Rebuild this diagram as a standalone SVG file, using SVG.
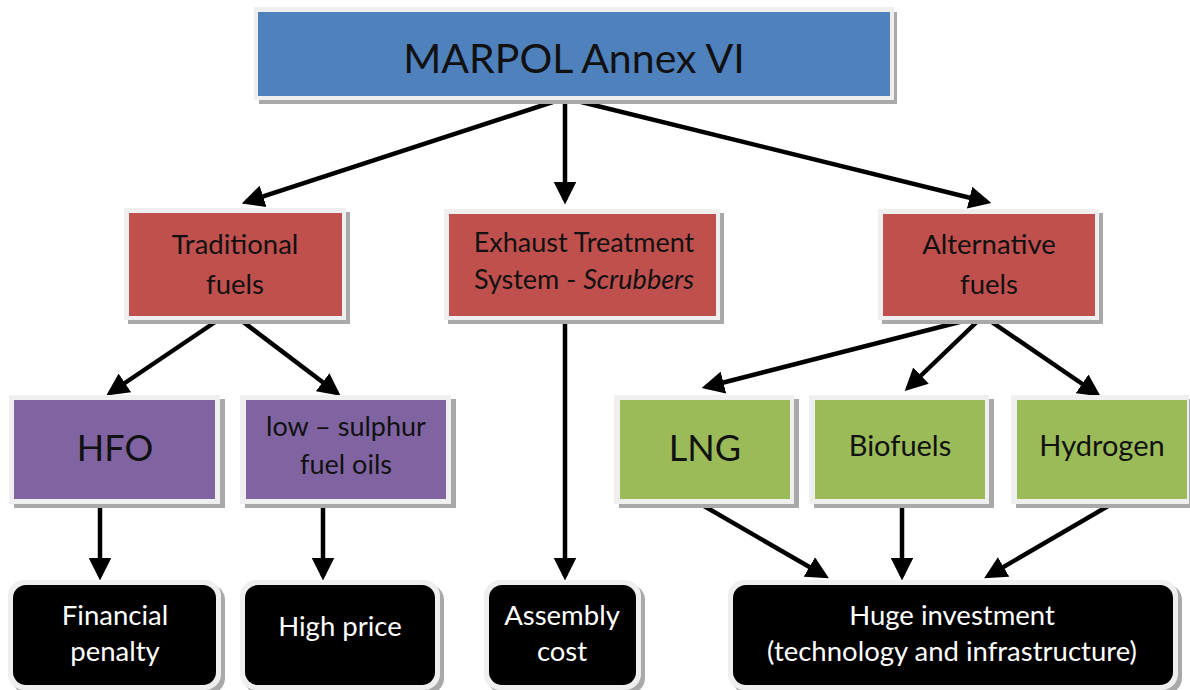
<svg xmlns="http://www.w3.org/2000/svg" width="1190" height="690" viewBox="0 0 1190 690">
<style>
.sh{fill:#a9a9a9}
.fr{fill:#efefef}
.blue{fill:#4f81bd}
.red{fill:#c0504d}
.pur{fill:#8064a2}
.grn{fill:#9bbb59}
.blk{fill:#000}
text{font-family:Lato,"Open Sans",sans-serif;text-anchor:middle;fill:#111}
.w{fill:#fff}
.c line{stroke:#000;stroke-width:4.5;marker-end:url(#ah)}
</style>
<defs>
<marker id="ah" markerWidth="5" markerHeight="5" refX="4" refY="2.5" orient="auto" markerUnits="strokeWidth">
<path d="M0,0 L5,2.5 L0,5 Z" fill="#000"/>
</marker>
</defs>
<rect width="1190" height="690" fill="#fff"/>
<g class="c">
<line x1="565" y1="98" x2="246" y2="202"/>
<line x1="565" y1="98" x2="565" y2="200"/>
<line x1="565" y1="98" x2="987" y2="202"/>
<line x1="230" y1="312" x2="110" y2="393"/>
<line x1="230" y1="312" x2="337" y2="393"/>
<line x1="565" y1="312" x2="565" y2="576"/>
<line x1="983" y1="316" x2="706" y2="387"/>
<line x1="983" y1="316" x2="908" y2="388"/>
<line x1="983" y1="316" x2="1097" y2="394"/>
<line x1="100" y1="502" x2="100" y2="576"/>
<line x1="323" y1="502" x2="323" y2="576"/>
<line x1="697" y1="502" x2="825" y2="576"/>
<line x1="902" y1="502" x2="902" y2="576"/>
<line x1="1115" y1="502" x2="988" y2="576"/>
</g>
<g id="marpol">
<rect class="sh" x="259" y="12" width="638" height="92"/>
<rect class="fr" x="254" y="7" width="640" height="93"/>
<rect class="blue" x="258" y="12" width="632" height="84"/>
<text x="574" y="73" font-size="41">MARPOL Annex VI</text>
</g>
<g id="traditional">
<rect class="sh" x="128" y="212" width="222" height="112"/>
<rect class="fr" x="124" y="208" width="222" height="112"/>
<rect class="red" x="129" y="213" width="213" height="103"/>
<text x="235" y="254" font-size="27.5">Traditional</text>
<text x="235" y="294" font-size="27.5">fuels</text>
</g>
<g id="exhaust">
<rect class="sh" x="448" y="213" width="276" height="111"/>
<rect class="fr" x="444" y="209" width="276" height="111"/>
<rect class="red" x="449" y="214" width="267" height="102"/>
<text x="584" y="252" font-size="27">Exhaust Treatment</text>
<text x="584" y="289" font-size="27">System - <tspan font-style="italic">Scrubbers</tspan></text>
</g>
<g id="alternative">
<rect class="sh" x="882" y="213" width="221" height="111"/>
<rect class="fr" x="878" y="209" width="221" height="111"/>
<rect class="red" x="883" y="214" width="212" height="102"/>
<text x="989" y="254" font-size="27.5">Alternative</text>
<text x="989" y="294" font-size="27.5">fuels</text>
</g>
<g id="hfo">
<rect class="sh" x="14" y="399" width="211" height="109"/>
<rect class="fr" x="9" y="395" width="211" height="109"/>
<rect class="pur" x="14" y="400" width="201" height="99"/>
<text x="115" y="461" font-size="36">HFO</text>
</g>
<g id="lowsulphur">
<rect class="sh" x="245" y="399" width="211" height="109"/>
<rect class="fr" x="240" y="395" width="211" height="109"/>
<rect class="pur" x="246" y="400" width="200" height="99"/>
<text x="346" y="436" font-size="27">low – sulphur</text>
<text x="346" y="474" font-size="27">fuel oils</text>
</g>
<g id="lng">
<rect class="sh" x="619" y="399" width="180" height="109"/>
<rect class="fr" x="614" y="395" width="180" height="109"/>
<rect class="grn" x="620" y="400" width="170" height="99"/>
<text x="705" y="461" font-size="36">LNG</text>
</g>
<g id="biofuels">
<rect class="sh" x="814" y="399" width="180" height="109"/>
<rect class="fr" x="809" y="395" width="180" height="109"/>
<rect class="grn" x="815" y="400" width="170" height="99"/>
<text x="900" y="456" font-size="29">Biofuels</text>
</g>
<g id="hydrogen">
<rect class="sh" x="1016" y="399" width="178" height="109"/>
<rect class="fr" x="1011" y="395" width="178" height="109"/>
<rect class="grn" x="1017" y="400" width="170" height="99"/>
<text x="1102" y="456" font-size="29">Hydrogen</text>
</g>
<g id="penalty">
<rect class="sh" x="12" y="584" width="213" height="110" rx="16"/>
<rect class="fr" x="8" y="580" width="213" height="110" rx="16"/>
<rect class="blk" x="13" y="585" width="203" height="100" rx="13"/>
<text class="w" x="115" y="625" font-size="27.5">Financial</text>
<text class="w" x="115" y="661" font-size="27.5">penalty</text>
</g>
<g id="highprice">
<rect class="sh" x="244" y="584" width="200" height="110" rx="16"/>
<rect class="fr" x="240" y="580" width="200" height="110" rx="16"/>
<rect class="blk" x="245" y="585" width="190" height="100" rx="13"/>
<text class="w" x="340" y="636" font-size="27.5">High price</text>
</g>
<g id="assembly">
<rect class="sh" x="488" y="584" width="157" height="110" rx="16"/>
<rect class="fr" x="484" y="580" width="157" height="110" rx="16"/>
<rect class="blk" x="489" y="585" width="147" height="100" rx="13"/>
<text class="w" x="562" y="625" font-size="27.5">Assembly</text>
<text class="w" x="562" y="661" font-size="27.5">cost</text>
</g>
<g id="investment">
<rect class="sh" x="732" y="584" width="450" height="110" rx="16"/>
<rect class="fr" x="728" y="580" width="450" height="110" rx="16"/>
<rect class="blk" x="733" y="585" width="440" height="100" rx="13"/>
<text class="w" x="952" y="625" font-size="27.5">Huge investment</text>
<text class="w" x="952" y="661" font-size="27.5">(technology and infrastructure)</text>
</g>
</svg>
